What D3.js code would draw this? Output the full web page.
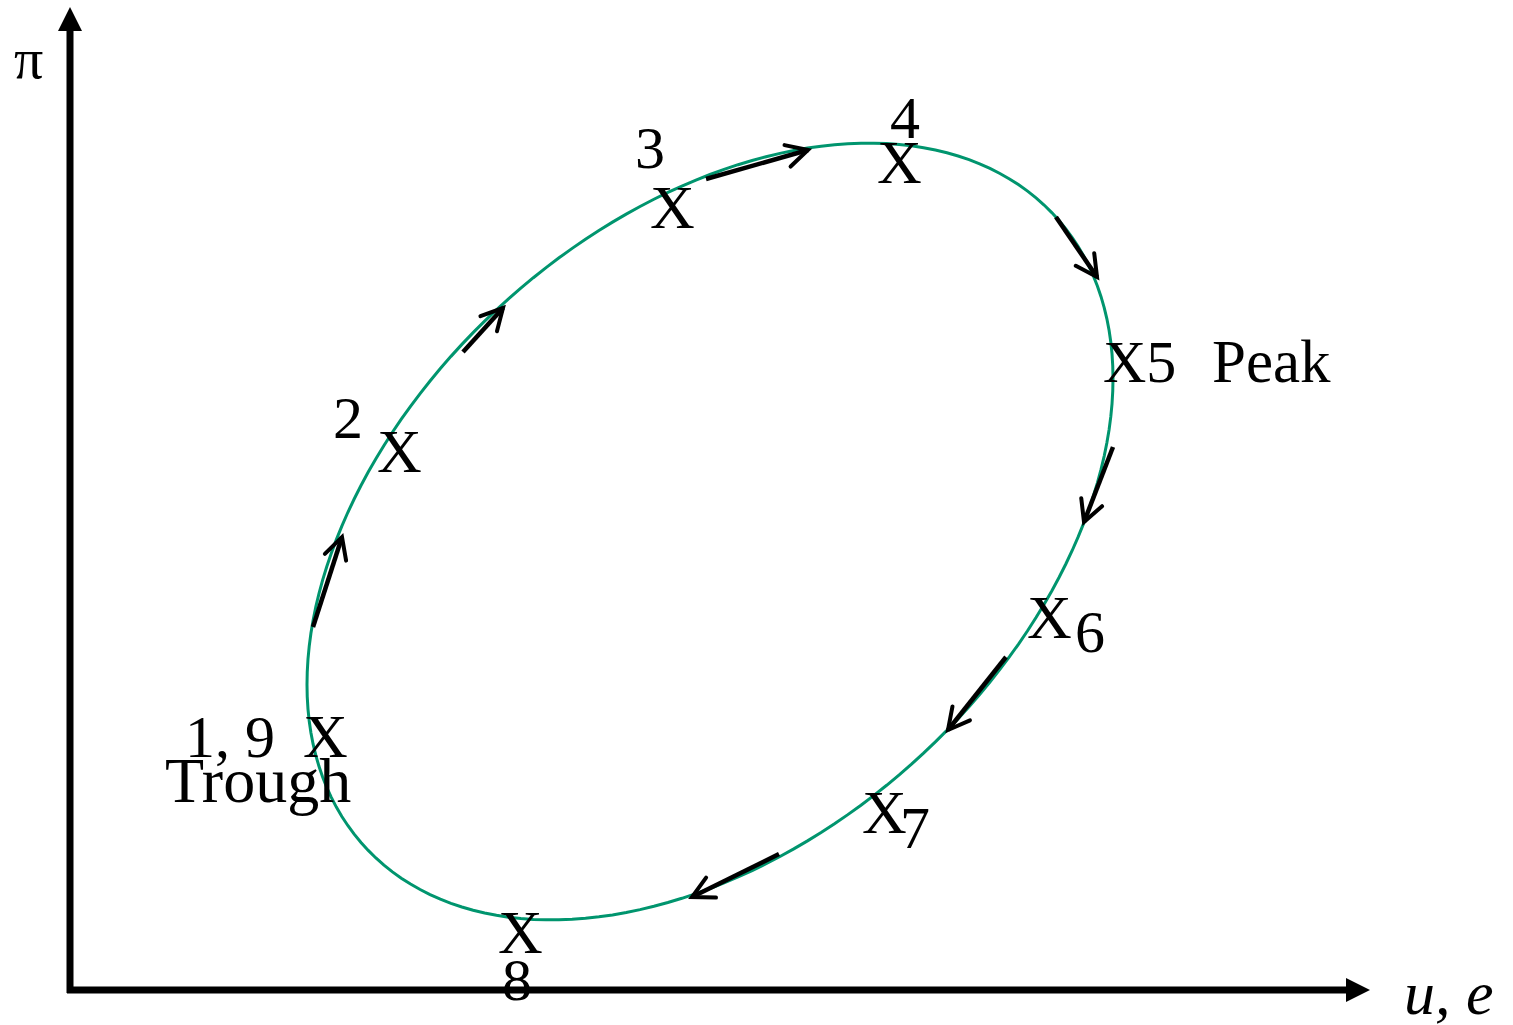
<!DOCTYPE html>
<html>
<head>
<meta charset="utf-8">
<script src="https://cdn.jsdelivr.net/npm/d3@7"></script>
<style>
    body { margin: 0; background: #fff; }
    text { font-family: "Liberation Serif", "Times New Roman", serif; fill: #000; }
</style>
</head>
<body>
<div id="chart"></div>
<script>
// business cycle loop (arbitrary units)
const xDomain = [0, 130];
const yDomain = [0, 98];

// ellipse: centre and two conjugate semi-diameters
const loopCenter = [64, 45.85];
const loopU = [40.3, 15.3];
const loopV = [0, 35.7];

// direction arrows along the loop
const arrowFrom = [[24.3, 36.3], [39.3, 63.8], [63.6, 81.1], [98.6, 77.3], [104.3, 54.3], [93.6, 33.3], [70.9, 13.6]];
const arrowTo   = [[27.2, 45.3], [43.3, 68.2], [73.8, 84.0], [102.7, 71.3], [101.4, 46.8], [87.8, 26.0], [62.2, 9.3]];

// phase labels
const labelText = ["3", "X", "4", "X", "X5", "Peak", "2", "X", "X", "6", "X", "7", "X", "8", "1, 9", "X", "Trough"];
const labelX    = [56.5, 58.0, 82.0, 80.7, 103.3, 114.2, 26.3, 30.7, 95.7, 100.5, 79.2, 83.0, 42.8, 43.2, 11.5, 23.3, 9.5];
const labelY    = [82.2, 76.2, 85.2, 80.7, 60.8, 60.8, 55.2, 51.8, 35.2, 33.8, 15.7, 14.2, 3.7, -1.0, 23.3, 23.3, 18.8];
const labelSize = [60, 62, 60, 62, 60, 61, 60, 62, 62, 60, 62, 60, 62, 60, 60, 62, 64];

const W = 1513, H = 1025;

let svg = d3.select("#chart").append("svg")
    .attr("width", W)
    .attr("height", H);

let x = d3.scaleLinear().domain(xDomain).range([70, 1370]);
let y = d3.scaleLinear().domain(yDomain).range([990, 10]);

// axes with filled arrow heads
svg.append("line")
    .attr("x1", x(0)).attr("y1", y(0) + 3)
    .attr("x2", x(0)).attr("y2", y(yDomain[1]) + 20)
    .attr("stroke", "#000").attr("stroke-width", 7);
svg.append("path")
    .attr("d", `M${x(0)},${y(yDomain[1]) - 3} L${x(0) - 12},${y(yDomain[1]) + 21} L${x(0) + 12},${y(yDomain[1]) + 21} Z`)
    .attr("fill", "#000");

svg.append("line")
    .attr("x1", x(0) - 3).attr("y1", y(0))
    .attr("x2", x(xDomain[1]) - 20).attr("y2", y(0))
    .attr("stroke", "#000").attr("stroke-width", 7);
svg.append("path")
    .attr("d", `M${x(xDomain[1])},${y(0)} L${x(xDomain[1]) - 24},${y(0) - 12} L${x(xDomain[1]) - 24},${y(0) + 12} Z`)
    .attr("fill", "#000");

svg.append("text")
    .attr("x", 14).attr("y", 78)
    .style("font-size", "58px")
    .text("π");

svg.append("text")
    .attr("x", 1404).attr("y", 1014)
    .style("font-size", "62px")
    .style("font-style", "italic")
    .text("u, e");

// the loop
let angles = d3.range(0, 361, 2).map(a => a * Math.PI / 180);
let loopLine = d3.line()
    .x(t => x(loopCenter[0] + loopU[0] * Math.cos(t) + loopV[0] * Math.sin(t)))
    .y(t => y(loopCenter[1] + loopU[1] * Math.cos(t) + loopV[1] * Math.sin(t)))
    .curve(d3.curveLinearClosed);

svg.append("path")
    .attr("d", loopLine(angles))
    .attr("fill", "none")
    .attr("stroke", "#00956e")
    .attr("stroke-width", 3);

// arrows
let arrows = svg.selectAll(".arrow")
    .data(arrowFrom.map((d, i) => ({from: d, to: arrowTo[i]})))
    .enter().append("g")
    .attr("class", "arrow");

arrows.append("line")
    .attr("x1", d => x(d.from[0])).attr("y1", d => y(d.from[1]))
    .attr("x2", d => x(d.to[0])).attr("y2", d => y(d.to[1]))
    .attr("stroke", "#000").attr("stroke-width", 4.5)
    .attr("stroke-linecap", "butt");

arrows.append("path")
    .attr("d", d => {
        let x2 = x(d.to[0]), y2 = y(d.to[1]);
        let ang = Math.atan2(y2 - y(d.from[1]), x2 - x(d.from[0]));
        let len = 24, spread = Math.PI / 6.5;
        let a1 = ang + Math.PI - spread, a2 = ang + Math.PI + spread;
        return `M${x2 + len * Math.cos(a1)},${y2 + len * Math.sin(a1)} L${x2},${y2} L${x2 + len * Math.cos(a2)},${y2 + len * Math.sin(a2)}`;
    })
    .attr("fill", "none")
    .attr("stroke", "#000")
    .attr("stroke-width", 4)
    .attr("stroke-linecap", "round")
    .attr("stroke-linejoin", "miter");

// labels
svg.selectAll(".lbl")
    .data(labelText)
    .enter().append("text")
    .attr("class", "lbl")
    .attr("x", (d, i) => x(labelX[i]))
    .attr("y", (d, i) => y(labelY[i]))
    .style("font-size", (d, i) => labelSize[i] + "px")
    .style("white-space", "pre")
    .text(d => d);
</script>
</body>
</html>
